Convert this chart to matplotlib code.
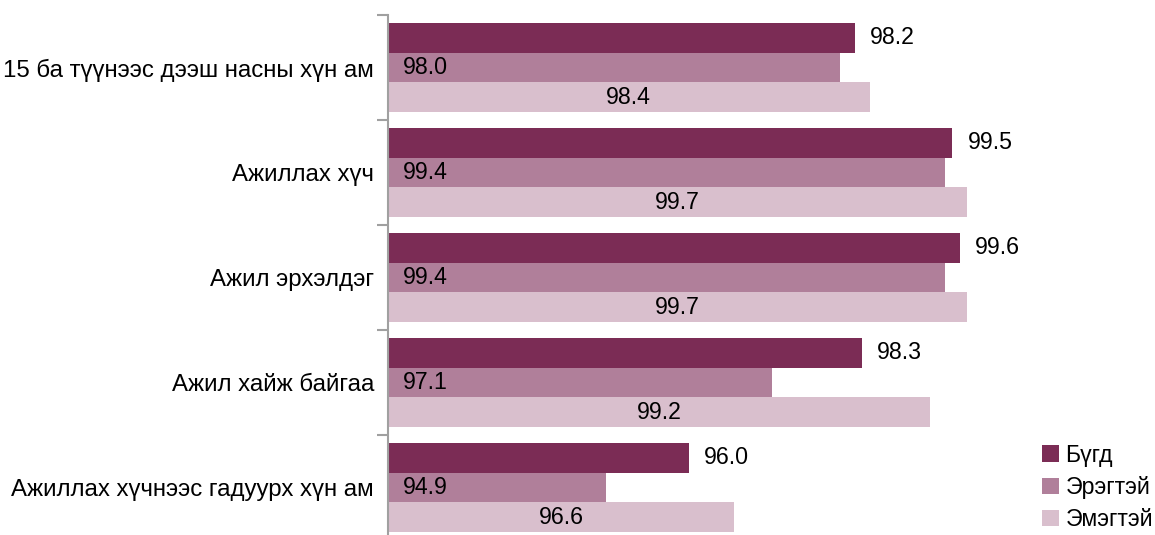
import matplotlib
matplotlib.use('Agg')
import matplotlib.pyplot as plt
import numpy as np

categories = [
    '15 ба түүнээс дээш насны хүн ам',
    'Ажиллах хүч',
    'Ажил эрхэлдэг',
    'Ажил хайж байгаа',
    'Ажиллах хүчнээс гадуурх хүн ам',
]
series_names = ['Бүгд', 'Эрэгтэй', 'Эмэгтэй']
total = [98.2, 99.5, 99.6, 98.3, 96.0]
male = [98.0, 99.4, 99.4, 97.1, 94.9]
female = [98.4, 99.7, 99.7, 99.2, 96.6]
colors = ['#7B2C55', '#B07F9A', '#D9BFCD']

plt.rcParams['font.family'] = ['Liberation Sans', 'DejaVu Sans']
FS_VAL = 16.7
FS_CAT = 17.3

XMIN, XMAX = 92, 100

fig = plt.figure(figsize=(11.55, 5.35), dpi=100)
ax = fig.add_axes([388 / 1155, -5 / 535, (990 - 388) / 1155, 525 / 535])

y = np.arange(len(categories))
h = 0.2857
offsets = [-h, 0, h]
values = [total, male, female]

for i, (name, vals, col) in enumerate(zip(series_names, values, colors)):
    ax.barh(y + offsets[i], np.array(vals) - XMIN, left=XMIN, height=h,
            color=col, label=name)
    for yy, v in zip(y + offsets[i], vals):
        if i == 0:
            ax.annotate(f'{v:.1f}', (v, yy), xytext=(15, 0), textcoords='offset pixels',
                        ha='left', va='center', fontsize=FS_VAL)
        elif i == 1:
            ax.annotate(f'{v:.1f}', (XMIN, yy), xytext=(15, 0), textcoords='offset pixels',
                        ha='left', va='center', fontsize=FS_VAL)
        else:
            ax.text((XMIN + v) / 2, yy, f'{v:.1f}', ha='center', va='center', fontsize=FS_VAL)

ax.set_xlim(XMIN, XMAX)
ax.set_ylim(len(categories) - 0.5, -0.5)
ax.set_yticks(y)
ax.set_yticklabels(categories, fontsize=FS_CAT)
ax.set_yticks(np.arange(len(categories) + 1) - 0.5, minor=True)
ax.tick_params(axis='y', which='major', length=0, pad=10)
ax.tick_params(axis='y', which='minor', length=8, width=1.5, color='#A0A0A0')
ax.set_xticks([])
for s in ['top', 'right', 'bottom']:
    ax.spines[s].set_visible(False)
ax.spines['left'].set_color('#A0A0A0')
ax.spines['left'].set_linewidth(1.5)

fig.legend(loc='lower left', bbox_to_anchor=(1033 / 1155, -0.01), frameon=False,
           fontsize=FS_VAL, handlelength=0.7, handleheight=0.7, handletextpad=0.3,
           labelspacing=0.4, borderaxespad=0)

fig.savefig('out.png', dpi=100)
